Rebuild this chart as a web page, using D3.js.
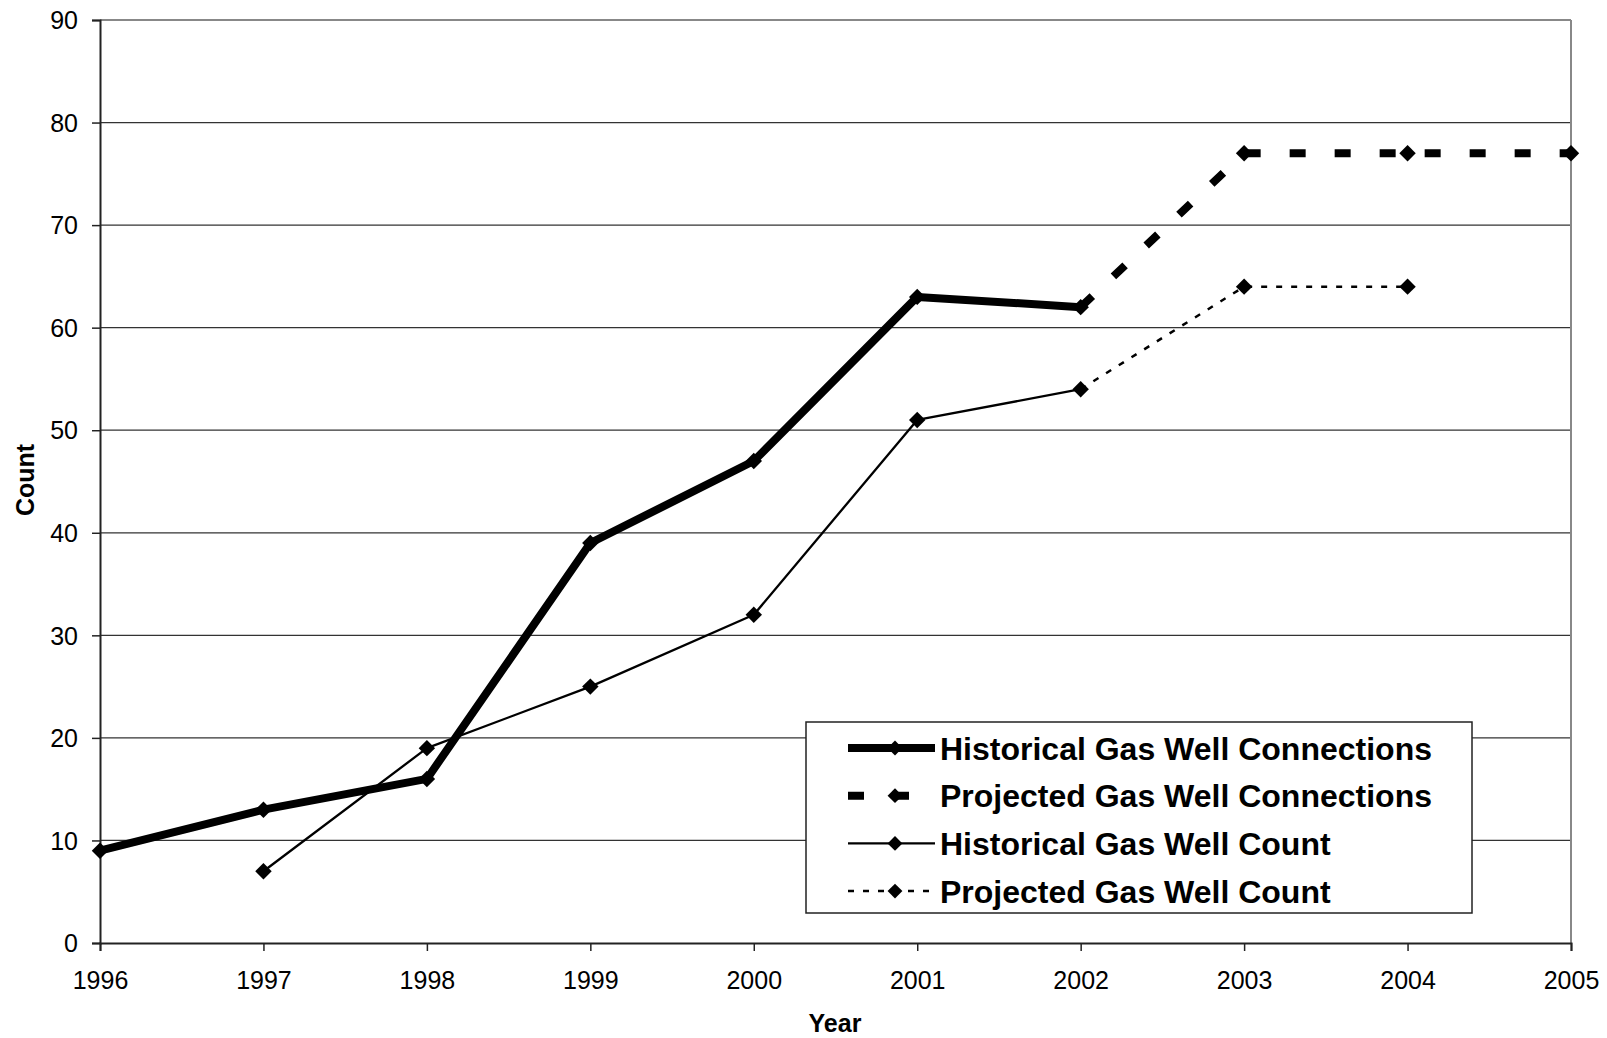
<!DOCTYPE html>
<html>
<head>
<meta charset="utf-8">
<script src="https://cdn.jsdelivr.net/npm/d3@7"></script>
<style>
  body { margin: 0; background: #fff; }
  text { font-family: "Liberation Sans", Arial, sans-serif; fill: #000; }
</style>
</head>
<body>
<svg id="chart" width="1607" height="1038"></svg>
<script>
// data
const years = [1996, 1997, 1998, 1999, 2000, 2001, 2002, 2003, 2004, 2005];
const histConnYears = [1996, 1997, 1998, 1999, 2000, 2001, 2002];
const histConnValues = [9, 13, 16, 39, 47, 63, 62];
const projConnYears = [2002, 2003, 2004, 2005];
const projConnValues = [62, 77, 77, 77];
const histCountYears = [1997, 1998, 1999, 2000, 2001, 2002];
const histCountValues = [7, 19, 25, 32, 51, 54];
const projCountYears = [2002, 2003, 2004];
const projCountValues = [54, 64, 64];
const yTicks = [0, 10, 20, 30, 40, 50, 60, 70, 80, 90];

const series = [
  { name: "Historical Gas Well Connections", xs: histConnYears, ys: histConnValues, width: 8, dash: null, legDash: null, marker: histConnYears },
  { name: "Projected Gas Well Connections", xs: projConnYears, ys: projConnValues, width: 8, dash: "16,29", legDash: "16,29", marker: projConnYears.slice(1) },
  { name: "Historical Gas Well Count", xs: histCountYears, ys: histCountValues, width: 2.3, dash: null, legDash: null, marker: histCountYears },
  { name: "Projected Gas Well Count", xs: projCountYears, ys: projCountValues, width: 2.5, dash: "6,9", legDash: "6,9", marker: projCountYears.slice(1) }
];

const svg = d3.select("#chart");
const pLeft = 100, pRight = 1571, pTop = 20, pBottom = 943;

let x = d3.scaleLinear().domain([1996, 2005]).range([pLeft, pRight]);
let y = d3.scaleLinear().domain([0, 90]).range([pBottom, pTop]);

// grid
svg.append("g").selectAll("line").data(yTicks.filter(d => d > 0 && d < 90)).join("line")
  .attr("x1", pLeft).attr("x2", pRight)
  .attr("y1", d => y(d)).attr("y2", d => y(d))
  .attr("stroke", "#333").attr("stroke-width", 1.2);

// top + right frame (grey)
svg.append("line").attr("x1", pLeft).attr("x2", pRight).attr("y1", y(90)).attr("y2", y(90))
  .attr("stroke", "#888").attr("stroke-width", 2);
svg.append("line").attr("x1", pRight).attr("x2", pRight).attr("y1", pTop).attr("y2", pBottom)
  .attr("stroke", "#888").attr("stroke-width", 2);

// axes
let yAxis = d3.axisLeft(y).tickValues(yTicks).tickSize(8).tickPadding(14);
let gy = svg.append("g").attr("transform", `translate(${pLeft},0)`).call(yAxis);
let xAxis = d3.axisBottom(x).tickValues(years).tickFormat(d3.format("d")).tickSize(8).tickPadding(20);
let gx = svg.append("g").attr("transform", `translate(0,${pBottom})`).call(xAxis);
[gy, gx].forEach(g => {
  g.select(".domain").attr("stroke", "#222").attr("stroke-width", 2);
  g.selectAll(".tick line").attr("stroke", "#222").attr("stroke-width", 1.5);
  g.selectAll("text").attr("font-size", 25).attr("fill", "#000")
    .attr("font-family", "Liberation Sans, Arial, sans-serif");
});
gy.selectAll("text").attr("dy", "0.35em");

// axis titles
svg.append("text").attr("x", 835).attr("y", 1032).attr("text-anchor", "middle")
  .attr("font-size", 25).attr("font-weight", "bold").text("Year");
svg.append("text").attr("transform", "translate(34,480) rotate(-90)").attr("text-anchor", "middle")
  .attr("font-size", 25).attr("font-weight", "bold").text("Count");

let line = d3.line().x(d => x(d[0])).y(d => y(d[1]));
let diamond = d3.symbol().type(d3.symbolSquare).size(135);
series.forEach(s => {
  let pts = s.xs.map((v, i) => [v, s.ys[i]]);
  svg.append("path").datum(pts).attr("d", line)
    .attr("fill", "none").attr("stroke", "#000").attr("stroke-width", s.width)
    .attr("stroke-dasharray", s.dash).attr("stroke-linejoin", "round");
  let mk = pts.filter(p => s.marker.includes(p[0]));
  svg.append("g").selectAll("path").data(mk).join("path")
    .attr("d", diamond)
    .attr("transform", d => `translate(${x(d[0])},${y(d[1])}) rotate(45)`)
    .attr("fill", "#000");
});

// legend
const lg = svg.append("g");
lg.append("rect").attr("x", 806).attr("y", 722).attr("width", 666).attr("height", 191)
  .attr("fill", "#fff").attr("stroke", "#222").attr("stroke-width", 1.5);
series.forEach((s, i) => {
  let cy = 748 + i * 47.7;
  lg.append("line").attr("x1", 848).attr("x2", 935).attr("y1", cy).attr("y2", cy)
    .attr("stroke", "#000").attr("stroke-width", s.width)
    .attr("stroke-dasharray", s.legDash);
  lg.append("path").attr("d", d3.symbol().type(d3.symbolSquare).size(110))
    .attr("transform", `translate(895,${cy}) rotate(45)`).attr("fill", "#000");
  lg.append("text").attr("x", 940).attr("y", cy).attr("dy", "0.36em")
    .attr("font-size", 32).attr("font-weight", "bold").text(s.name);
});
</script>
</body>
</html>
